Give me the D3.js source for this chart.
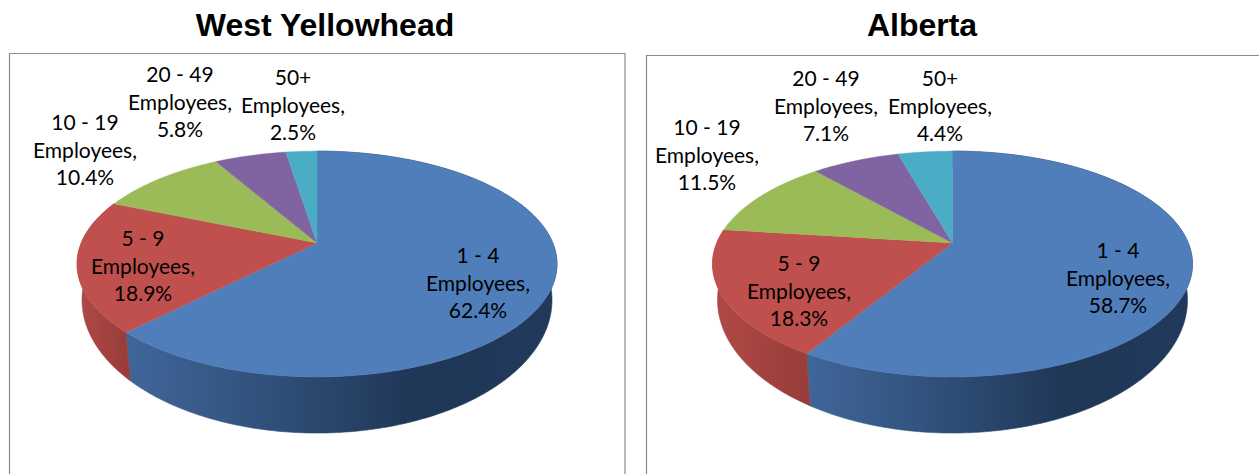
<!DOCTYPE html>
<html><head><meta charset="utf-8">
<script src="https://cdn.jsdelivr.net/npm/d3@7"></script>
<style>html,body{margin:0;padding:0;background:#fff}svg{display:block}</style>
</head><body><svg id="c" width="1259" height="474"></svg>
<script>
const categories = ["1 - 4","5 - 9","10 - 19","20 - 49","50+"];
const westYellowhead = [62.4,18.9,10.4,5.8,2.5];
const alberta = [58.7,18.3,11.5,7.1,4.4];
const colors = ["#4f7ebb","#c0504d","#9bbb59","#8064a2","#4bacc6"];
const wallStops = [
  [[0,"#40669a"],[0.35,"#2f4f78"],[0.68,"#1f3655"],[1,"#213a5c"]],
  [[0,"#b04a46"],[1,"#983d3a"]]
];
// label centre x and first-line y, one pair per category
const labelsWest = [[478,254],[143,237],[85,121],[180,73],[293,76]];
const labelsAlberta = [[1118,249],[799,262],[707,126],[826,77],[940,77]];
const panels = [
  {title:"West Yellowhead",values:westYellowhead,cx:317,left:9,right:625,top:53,titleX:325,labels:labelsWest,id:"w"},
  {title:"Alberta",values:alberta,cx:952.5,left:646,right:1270,top:55,titleX:922,labels:labelsAlberta,id:"a"}
];
const svg = d3.select("#c");
const defs = svg.append("defs");
const pie = d3.pie().sort(null).startAngle(0).endAngle(2*Math.PI);
const K = 0.186;
function project(a,cx,cy,A,B){
  const u=Math.sin(a), v=-Math.cos(a), w=1-K*v;
  return [cx+B*u/w, cy+A*v/w];
}
const line = d3.line();
function arcPts(a0,a1,cx,cy,A,B){
  const n=Math.max(2,Math.ceil((a1-a0)/0.01));
  return d3.range(n+1).map(i=>project(a0+(a1-a0)*i/n,cx,cy,A,B));
}
panels.forEach(p=>{
  const g=svg.append("g");
  g.append("path").attr("d",`M${p.left+.5},474V${p.top+.5}H${p.right}V474`)
    .attr("fill","#fff").attr("stroke","#8c8c8c").attr("stroke-width",1.2);
  g.append("text").text(p.title).attr("x",p.titleX).attr("y",36).attr("text-anchor","middle")
    .attr("font-family","'Liberation Sans',Arial,sans-serif").attr("font-weight","bold").attr("font-size",32).attr("fill","#000");
  const arcs=pie(p.values);
  const topC=[p.cx,243,109,235.8], botC=[p.cx,275.3,128.4,230.9];
  // walls
  [0,1].forEach(i=>{
    const d=arcs[i];
    const gid=`wall-${p.id}-${i}`;
    const x0=i==0?project(d.endAngle,...topC)[0]:p.cx-240;
    const x1=i==0?p.cx+240:project(d.startAngle,...topC)[0];
    const gr=defs.append("linearGradient").attr("id",gid).attr("gradientUnits","userSpaceOnUse")
      .attr("x1",x0).attr("x2",x1).attr("y1",0).attr("y2",0);
    wallStops[i].forEach(s=>gr.append("stop").attr("offset",s[0]).attr("stop-color",s[1]));
    const pts=arcPts(d.startAngle,d.endAngle,...topC).concat(arcPts(d.startAngle,d.endAngle,...botC).reverse());
    g.append("path").attr("d",line(pts)+"Z").attr("fill",`url(#${gid})`).attr("stroke",`url(#${gid})`).attr("stroke-width",0.6);
  });
  // top faces
  arcs.forEach((d,i)=>{
    const pts=[[p.cx,243]].concat(arcPts(d.startAngle,d.endAngle,...topC));
    g.append("path").attr("d",line(pts)+"Z").attr("fill",colors[i]).attr("stroke",colors[i]).attr("stroke-width",0.4);
  });
  // labels
  categories.forEach((c,i)=>{
    const t=g.append("text").attr("text-anchor","middle").attr("font-family","Lato,'Open Sans',sans-serif")
      .attr("font-size",21).attr("fill","#000").attr("dominant-baseline","central");
    [c,"Employees,",p.values[i].toFixed(1)+"%"].forEach((s,j)=>{
      t.append("tspan").attr("x",p.labels[i][0]).attr("y",p.labels[i][1]+j*27.5).text(s);
    });
  });
});
</script></body></html>
